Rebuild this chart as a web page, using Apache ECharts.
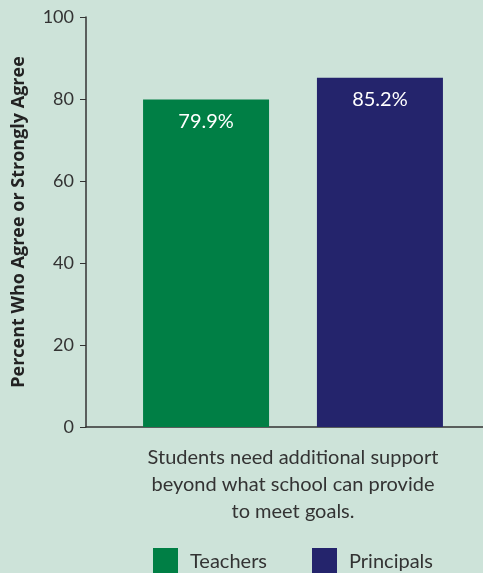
<!DOCTYPE html>
<html>
<head>
<meta charset="utf-8">
<script src="https://cdn.jsdelivr.net/npm/echarts@6/dist/echarts.min.js"></script>
<style>
  html, body { margin: 0; padding: 0; background: #cde3d9; }
  #chart { width: 483px; height: 573px; }
</style>
</head>
<body>
<div id="chart"></div>
<script>
// Survey question and respondent groups
const categories = ['Students need additional support\nbeyond what school can provide\nto meet goals.'];
const seriesNames = ['Teachers', 'Principals'];
const teachersValues = [79.9];
const principalsValues = [85.2];
const seriesColors = ['#007f45', '#24246c'];
const yTicks = { min: 0, max: 100, interval: 20 };

const font = 'Lato, "Open Sans", sans-serif';
const textColor = '#333333';

const chart = echarts.init(document.getElementById('chart'), null, { renderer: 'canvas' });

const makeSeries = (name, data, color) => ({
  name: name,
  type: 'bar',
  data: data,
  barWidth: 126,
  barGap: '38%',
  itemStyle: { color: color },
  label: {
    show: true,
    position: 'insideTop',
    distance: 12,
    color: '#ffffff',
    fontFamily: font,
    fontSize: 20,
    formatter: p => p.value.toFixed(1) + '%'
  }
});

chart.setOption({
  backgroundColor: '#cde3d9',
  animation: false,
  // plot area runs past the right edge of the canvas
  grid: { left: 86, right: -17, top: 17, bottom: 146, outerBoundsMode: 'none', containLabel: false },
  legend: {
    data: seriesNames,
    left: 148,
    top: 543,
    itemWidth: 25,
    itemHeight: 28,
    itemGap: 45,
    icon: 'rect',
    textStyle: { fontFamily: font, fontSize: 20, color: textColor, padding: [0, 0, 0, 7] }
  },
  xAxis: {
    type: 'category',
    data: categories,
    axisLine: { show: true, lineStyle: { color: '#333333', width: 1.5 } },
    axisTick: { show: false },
    axisLabel: {
      color: textColor,
      fontFamily: font,
      fontSize: 20,
      lineHeight: 27,
      margin: 17,
      align: 'center'
    }
  },
  yAxis: {
    type: 'value',
    min: yTicks.min,
    max: yTicks.max,
    interval: yTicks.interval,
    name: 'Percent Who Agree or Strongly Agree',
    nameLocation: 'middle',
    nameGap: 58,
    nameTextStyle: { fontFamily: '"Open Sans", Lato, sans-serif', fontSize: 18, fontWeight: 'bold', color: '#222222' },
    axisLine: { show: true, lineStyle: { color: '#333333', width: 1.5 } },
    axisTick: { show: true, length: 6, lineStyle: { color: '#333333' } },
    splitLine: { show: false },
    axisLabel: { color: textColor, fontFamily: font, fontSize: 18, margin: 12 }
  },
  series: [
    makeSeries(seriesNames[0], teachersValues, seriesColors[0]),
    makeSeries(seriesNames[1], principalsValues, seriesColors[1])
  ]
});
</script>
</body>
</html>
